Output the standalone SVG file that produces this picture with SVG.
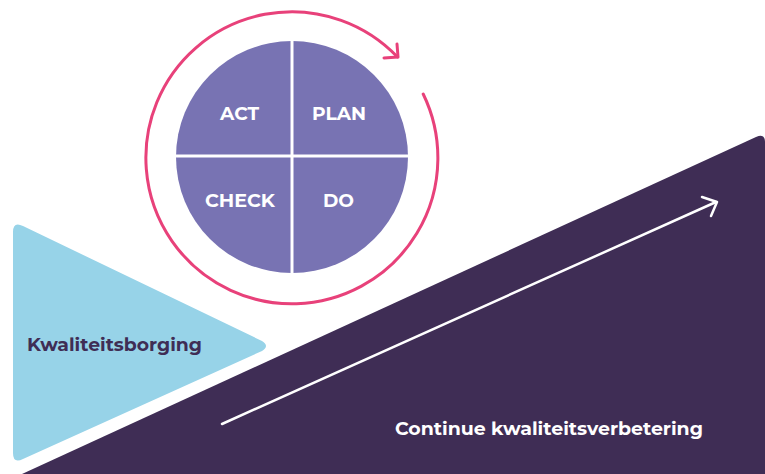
<svg xmlns="http://www.w3.org/2000/svg" width="765" height="474" viewBox="0 0 765 474">
<style>
.lbl{font-family:"Montserrat","Open Sans","Liberation Sans",sans-serif;font-weight:700;font-size:17.5px;}
.q{fill:#ffffff;text-anchor:middle;}
</style>
<rect width="765" height="474" fill="#ffffff"/>
<g id="wedge">
<path d="M22,474 L756,137 Q765,133 765,142 L765,474 Z" fill="#3f2d55"/>
<text class="lbl" x="395" y="435" fill="#ffffff" textLength="308" lengthAdjust="spacingAndGlyphs">Continue kwaliteitsverbetering</text>
</g>
<g id="triangle">
<path d="M13,232 Q13,221 23,226 L262,341 Q270,346 262,351 L23,459 Q13,464 13,453 Z" fill="#97d3e8"/>
<text class="lbl" x="27" y="351" fill="#3f2d55" textLength="175" lengthAdjust="spacingAndGlyphs">Kwaliteitsborging</text>
</g>
<g id="pdca">
<circle cx="292" cy="157" r="116" fill="#7873b3"/>
<line x1="292" y1="40" x2="292" y2="274" stroke="#ffffff" stroke-width="3"/>
<line x1="175" y1="156" x2="409" y2="156" stroke="#ffffff" stroke-width="3"/>
<text class="lbl q" x="239.5" y="120" textLength="39" lengthAdjust="spacingAndGlyphs">ACT</text>
<text class="lbl q" x="339" y="120" textLength="54" lengthAdjust="spacingAndGlyphs">PLAN</text>
<text class="lbl q" x="240" y="207" textLength="70" lengthAdjust="spacingAndGlyphs">CHECK</text>
<text class="lbl q" x="338.5" y="207" textLength="31" lengthAdjust="spacingAndGlyphs">DO</text>
</g>
<g id="connectors" fill="none" stroke-linecap="round" stroke-linejoin="round">
<path d="M423.2,94 A146,146 0 1 1 397.5,57" stroke="#e8417a" stroke-width="3"/>
<path d="M397,44 L398,57 L384,58" stroke="#e8417a" stroke-width="3"/>
<line x1="222" y1="424" x2="716" y2="202" stroke="#ffffff" stroke-width="2.5"/>
<path d="M702,197 L717,202 L711,216" stroke="#ffffff" stroke-width="2.5"/>
</g>
</svg>
